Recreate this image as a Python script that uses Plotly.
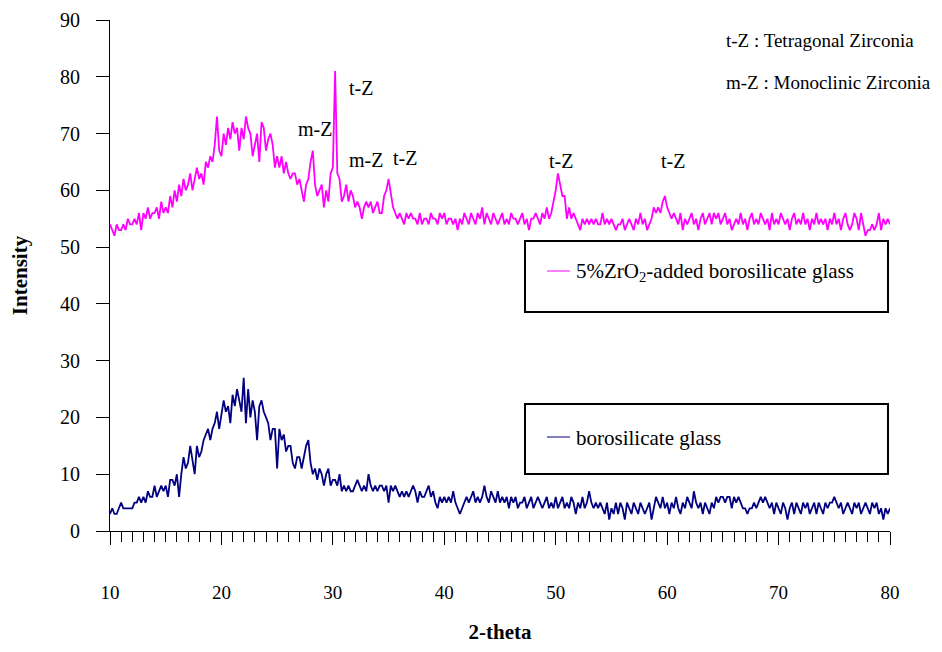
import plotly.graph_objects as go

# 2-theta grid (10 to 80, step 0.2)
two_theta = [round(10 + 0.2 * i, 1) for i in range(351)]

zro2_glass = [
    # 10.0 - 14.8
    54, 53, 52, 54, 53, 53, 54, 53, 55, 54, 54, 55, 54, 56, 53, 56, 55, 57, 55, 56, 56, 57, 55, 58, 56,
    # 15.0 - 19.8
    57, 56, 59, 57, 60, 58, 61, 59, 62, 60, 61, 63, 60, 62, 64, 62, 63, 61, 65, 64, 66, 65, 68, 73, 67,
    # 20.0 - 24.8
    66, 70, 68, 71, 69, 72, 70, 71, 67, 71, 69, 73, 71, 70, 66, 68, 70, 65, 72, 71, 67, 69, 70, 68, 64,
    # 25.0 - 29.8
    66, 64, 66, 63, 65, 63, 62, 63, 63, 61, 62, 60, 58, 61, 62, 65, 67, 61, 59, 60, 61, 57, 60, 58, 63,
    # 30.0 - 34.8
    64, 81, 63, 62, 58, 59, 61, 58, 60, 59, 57, 58, 57, 55, 57, 58, 57, 58, 56, 57, 58, 56, 56, 59, 60,
    # 35.0 - 39.8
    62, 59, 57, 56, 55, 56, 55, 54, 56, 55, 56, 55, 55, 54, 56, 54, 55, 55, 54, 56, 55, 55, 54, 56, 55,
    # 40.0 - 44.8
    56, 54, 55, 55, 54, 55, 53, 55, 54, 56, 55, 54, 56, 55, 54, 56, 55, 57, 54, 56, 55, 54, 56, 55, 54,
    # 45.0 - 49.8
    55, 56, 54, 55, 54, 56, 55, 55, 54, 55, 56, 54, 55, 53, 55, 55, 56, 55, 54, 56, 55, 57, 55, 56, 58,
    # 50.0 - 54.8
    60, 63, 61, 59, 59, 55, 57, 55, 56, 55, 54, 53, 55, 54, 55, 54, 55, 54, 55, 54, 54, 56, 54, 55, 54,
    # 55.0 - 59.8
    55, 54, 53, 54, 54, 55, 53, 54, 55, 54, 53, 55, 54, 56, 54, 55, 53, 54, 55, 57, 56, 57, 56, 58, 59,
    # 60.0 - 64.8
    57, 56, 55, 56, 55, 54, 56, 53, 55, 54, 55, 56, 54, 55, 53, 55, 56, 54, 55, 56, 54, 56, 55, 56, 54,
    # 65.0 - 69.8
    55, 56, 54, 55, 53, 54, 55, 54, 56, 54, 55, 53, 55, 56, 54, 55, 54, 56, 55, 54, 55, 53, 56, 54, 55,
    # 70.0 - 74.8
    54, 56, 55, 54, 55, 53, 55, 56, 54, 55, 54, 56, 54, 55, 53, 55, 54, 56, 54, 55, 54, 55, 53, 55, 54,
    # 75.0 - 80.0
    56, 54, 55, 53, 55, 56, 54, 53, 54, 56, 55, 53, 56, 54, 52, 53, 53, 54, 53, 54, 56, 53, 55, 54, 55, 54,
]

plain_glass = [
    # 10.0 - 14.8
    3, 4, 3, 3, 4, 5, 4, 4, 4, 4, 4, 5, 5, 6, 5, 6, 5, 7, 6, 6, 8, 6, 7, 8, 7,
    # 15.0 - 19.8
    8, 6, 9, 9, 8, 10, 6, 10, 13, 11, 12, 15, 12, 10, 15, 13, 14, 16, 17, 18, 16, 18, 19, 21, 18,
    # 20.0 - 24.8
    21, 23, 21, 22, 19, 24, 22, 25, 23, 21, 27, 19, 25, 20, 23, 21, 16, 22, 23, 21, 20, 19, 16, 18, 18,
    # 25.0 - 29.8
    11, 18, 16, 17, 14, 15, 15, 12, 11, 13, 13, 11, 13, 15, 16, 12, 10, 11, 9, 11, 10, 8, 10, 11, 8,
    # 30.0 - 34.8
    9, 9, 8, 10, 7, 8, 7, 8, 7, 7, 8, 9, 8, 7, 8, 7, 10, 8, 7, 8, 7, 8, 8, 7, 8,
    # 35.0 - 39.8
    5, 8, 7, 8, 7, 6, 7, 6, 7, 6, 7, 8, 7, 5, 7, 6, 6, 7, 8, 6, 7, 5, 4, 6, 5,
    # 40.0 - 44.8
    6, 5, 6, 5, 7, 5, 4, 3, 4, 5, 6, 5, 6, 7, 5, 6, 5, 6, 8, 6, 5, 7, 6, 5, 7,
    # 45.0 - 49.8
    5, 6, 5, 6, 4, 6, 5, 6, 4, 5, 5, 6, 4, 5, 6, 4, 5, 6, 5, 4, 5, 6, 4, 5, 4,
    # 50.0 - 54.8
    6, 4, 5, 6, 4, 5, 4, 6, 5, 3, 5, 4, 6, 4, 5, 7, 5, 4, 5, 4, 5, 4, 3, 5, 2,
    # 55.0 - 59.8
    4, 3, 5, 3, 5, 4, 2, 5, 4, 3, 5, 4, 3, 5, 4, 3, 4, 5, 2, 4, 6, 5, 4, 6, 4,
    # 60.0 - 64.8
    5, 3, 5, 4, 6, 4, 3, 5, 4, 6, 5, 4, 7, 5, 4, 5, 3, 5, 4, 3, 5, 4, 6, 5, 6,
    # 65.0 - 69.8
    6, 5, 6, 6, 4, 6, 5, 6, 5, 4, 4, 3, 4, 4, 5, 4, 5, 6, 5, 6, 5, 4, 5, 3, 5,
    # 70.0 - 74.8
    4, 3, 5, 4, 2, 4, 5, 3, 5, 4, 3, 5, 4, 5, 3, 4, 5, 3, 5, 4, 3, 5, 4, 5, 5,
    # 75.0 - 80.0
    6, 5, 4, 5, 3, 4, 5, 4, 3, 5, 4, 5, 3, 4, 5, 4, 3, 5, 4, 5, 3, 4, 2, 4, 3, 4,
]

x_ticks = [10, 20, 30, 40, 50, 60, 70, 80]
y_ticks = [0, 10, 20, 30, 40, 50, 60, 70, 80, 90]

peak_labels = ["t-Z", "m-Z", "m-Z", "t-Z", "t-Z", "t-Z"]
peak_label_x = [32.5, 28.4, 33.0, 36.5, 50.5, 60.5]
peak_label_y = [78.0, 70.8, 65.3, 65.7, 65.2, 65.2]

PINK = "#FF00FF"
NAVY = "#000080"
FONT = "Liberation Serif"

fig = go.Figure()
fig.add_trace(go.Scatter(x=two_theta, y=zro2_glass, mode="lines",
                         line=dict(color=PINK, width=1.8),
                         name="5%ZrO<sub>2</sub>-added borosilicate glass", showlegend=False))
fig.add_trace(go.Scatter(x=two_theta, y=plain_glass, mode="lines",
                         line=dict(color=NAVY, width=1.8),
                         name="borosilicate glass", showlegend=False))

# page body has an 8px margin on every side; size the figure so no scrollbars appear
OFF = 8
W, H = 942 - 2 * OFF, 652 - 2 * OFF
L, T = 110 - OFF, 20 - OFF
PW, PH = 780, 511
R, B = W - L - PW, H - T - PH


def px(xp):
    return (xp - OFF - L) / PW


def py(yp):
    return (T + PH - (yp - OFF)) / PH


shapes = []
annotations = []

# legend boxes
for (top, bottom, liney, color, text) in [
    (241, 312, 271, PINK, "5%ZrO<sub>2</sub>-added borosilicate glass"),
    (404, 474, 437, NAVY, "borosilicate glass"),
]:
    shapes.append(dict(type="rect", xref="paper", yref="paper",
                       x0=px(525), x1=px(888), y0=py(bottom), y1=py(top),
                       line=dict(color="black", width=2), fillcolor="white", layer="above"))
    shapes.append(dict(type="line", xref="paper", yref="paper",
                       x0=px(547), x1=px(570), y0=py(liney), y1=py(liney),
                       line=dict(color=color, width=1), layer="above"))
    annotations.append(dict(xref="paper", yref="paper", x=px(574), y=py(liney + 1),
                            text=text, showarrow=False, xanchor="left", yanchor="middle",
                            font=dict(family=FONT, size=21, color="black")))

for t, xv, yv in zip(peak_labels, peak_label_x, peak_label_y):
    annotations.append(dict(x=xv, y=yv, text=t, showarrow=False,
                            font=dict(family=FONT, size=20, color="black")))

annotations.append(dict(xref="paper", yref="paper", x=px(724), y=py(40),
                        text="t-Z : Tetragonal Zirconia", showarrow=False,
                        xanchor="left", yanchor="middle",
                        font=dict(family=FONT, size=19, color="black")))
annotations.append(dict(xref="paper", yref="paper", x=px(724), y=py(82),
                        text="m-Z : Monoclinic Zirconia", showarrow=False,
                        xanchor="left", yanchor="middle",
                        font=dict(family=FONT, size=19, color="black")))

fig.update_layout(
    width=W, height=H,
    margin=dict(l=L, r=R, t=T, b=B),
    paper_bgcolor="white", plot_bgcolor="white",
    font=dict(family=FONT, color="black"),
    shapes=shapes, annotations=annotations,
    showlegend=False,
    xaxis=dict(range=[10, 80], tickvals=x_ticks, ticks="outside", ticklen=13,
               tickwidth=1, tickcolor="black", automargin=False,
               minor=dict(ticks="outside", ticklen=10, dtick=1, tickcolor="black", tickwidth=1),
               showline=True, linecolor="black", linewidth=1, showgrid=False, zeroline=False,
               tickfont=dict(family=FONT, size=19), ticklabelstandoff=31,
               title=dict(text="<b>2-theta</b>", font=dict(family=FONT, size=21), standoff=38)),
    yaxis=dict(range=[0, 90], tickvals=y_ticks, ticks="outside", ticklen=13,
               tickwidth=1, tickcolor="black", automargin=False,
               showline=True, linecolor="black", linewidth=1, showgrid=False, zeroline=False,
               tickfont=dict(family=FONT, size=20), ticklabelstandoff=12,
               title=dict(text="<b>Intensity</b>", font=dict(family=FONT, size=21), standoff=28)),
)

fig.write_html("out.html")
